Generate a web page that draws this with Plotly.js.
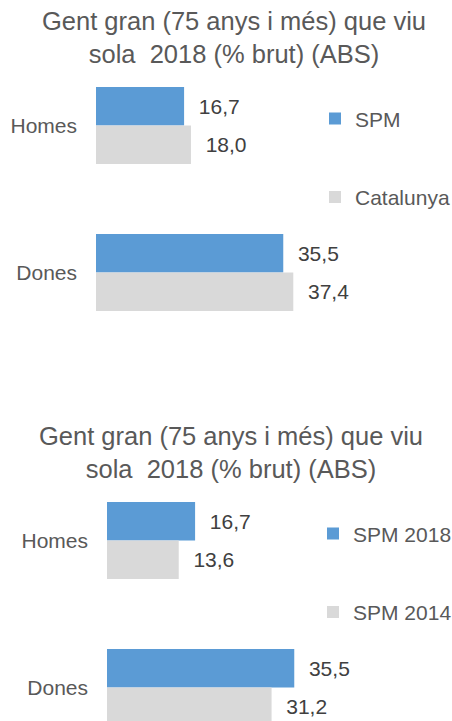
<!DOCTYPE html>
<html>
<head>
<meta charset="utf-8">
<script src="https://cdn.plot.ly/plotly-3.0.1.min.js"></script>
<style>
html, body { margin: 0; padding: 0; background: #fff; overflow: hidden; }
#c1, #c2 { width: 452px; height: 415px; position: absolute; left: 0; }
#c1 { top: 0; }
#c2 { top: 415px; }
</style>
</head>
<body>
<div id="c1"></div>
<div id="c2"></div>
<script>
// Data
var categories = ["Homes", "Dones"];
var chartTitle = "Gent gran (75 anys i més) que viu<br>sola\u00a0 2018 (% brut) (ABS)";

var chart1SeriesNames = ["SPM", "Catalunya"];
var chart1SPM = [16.7, 35.5];
var chart1Catalunya = [18.0, 37.4];

var chart2SeriesNames = ["SPM 2018", "SPM 2014"];
var chart2SPM2018 = [16.7, 35.5];
var chart2SPM2014 = [13.6, 31.2];

var blue = "#5B9BD5";
var grey = "#D9D9D9";
var textGrey = "#595959";
var valueGrey = "#404040";
var FONT = "Liberation Sans, Arial, sans-serif";

function makeTrace(name, values, color, group) {
  return {
    type: "bar",
    orientation: "h",
    name: name,
    legendgroup: group,
    x: values,
    y: categories,
    marker: { color: color, line: { width: 0 } },
    texttemplate: "\u00a0\u00a0%{x:.1f}",
    textposition: "outside",
    constraintext: "none",
    cliponaxis: false,
    textfont: { family: FONT, size: 21, color: valueGrey },
    hoverinfo: "skip"
  };
}

function makeLayout(left, titleX, legendX) {
  var plotW = 211;
  return {
    width: 452,
    height: 415,
    margin: { l: left, r: 452 - left - plotW, t: 52, b: 69, pad: 0, autoexpand: false },
    paper_bgcolor: "#ffffff",
    plot_bgcolor: "#ffffff",
    separators: ",.",
    font: { family: FONT, color: textGrey },
    title: {
      text: chartTitle,
      font: { family: FONT, size: 25.5, color: textGrey },
      x: titleX,
      xanchor: "center",
      xref: "container",
      yref: "container",
      y: 0.927,
      yanchor: "top"
    },
    barmode: "group",
    bargap: 0.476,
    bargroupgap: 0,
    xaxis: {
      range: [0, 40],
      visible: false,
      fixedrange: true
    },
    yaxis: {
      type: "category",
      range: [1.5, -0.5],
      showgrid: false,
      zeroline: false,
      showline: false,
      ticks: "",
      ticklabelstandoff: 18,
      tickfont: { family: FONT, size: 21, color: textGrey },
      fixedrange: true
    },
    showlegend: true,
    legend: {
      x: legendX,
      xanchor: "left",
      y: 0.842,
      yanchor: "top",
      traceorder: "grouped",
      tracegroupgap: 48,
      font: { family: FONT, size: 21, color: textGrey },
      bgcolor: "rgba(0,0,0,0)",
      borderwidth: 0
    }
  };
}

var config = { staticPlot: true, displayModeBar: false };

Plotly.newPlot("c1", [
  makeTrace(chart1SeriesNames[0], chart1SPM, blue, "a"),
  makeTrace(chart1SeriesNames[1], chart1Catalunya, grey, "b")
], makeLayout(96, 234 / 452, (355 - 40 - 96) / 211), config);

Plotly.newPlot("c2", [
  makeTrace(chart2SeriesNames[0], chart2SPM2018, blue, "a"),
  makeTrace(chart2SeriesNames[1], chart2SPM2014, grey, "b")
], makeLayout(107, 231 / 452, (353 - 40 - 107) / 211), config);
</script>
</body>
</html>
